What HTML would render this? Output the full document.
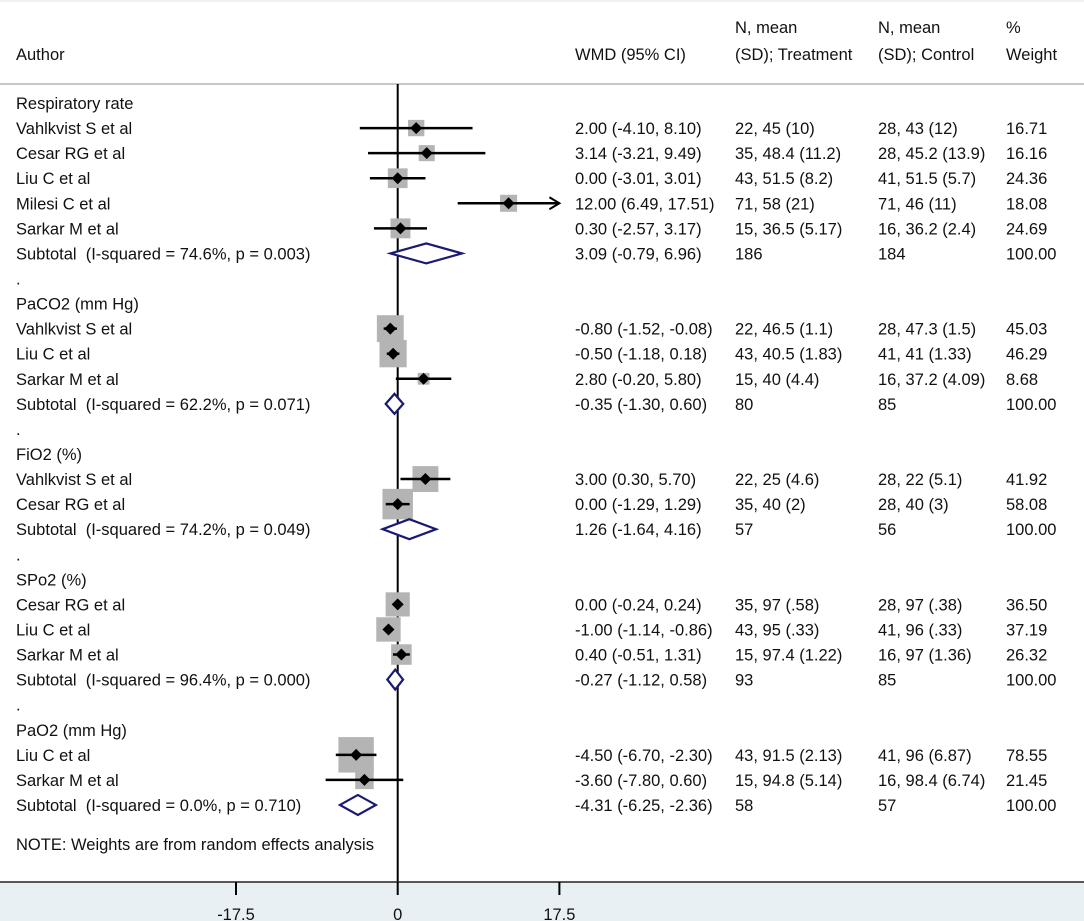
<!DOCTYPE html>
<html><head><meta charset="utf-8"><style>
html,body{margin:0;padding:0;background:#fff}
svg{display:block;font-family:"Liberation Sans",Arial,sans-serif;font-size:16.5px;fill:#111}
svg text{white-space:pre}
</style></head><body>
<svg id="chart" width="1084" height="921" viewBox="0 0 1084 921" xmlns="http://www.w3.org/2000/svg">
<rect x="0" y="0" width="1084" height="921" fill="#fff"/>
<rect x="0" y="882" width="1084" height="39" fill="#e8f0f3"/>
<line x1="0" y1="1" x2="1084" y2="1" stroke="#eef2f2" stroke-width="2"/>
<g>
<text x="16" y="60">Author</text>
<text x="575" y="60">WMD (95% CI)</text>
<text x="735" y="33">N, mean</text>
<text x="735" y="60">(SD); Treatment</text>
<text x="878" y="33">N, mean</text>
<text x="878" y="60">(SD); Control</text>
<text x="1006" y="33">%</text>
<text x="1006" y="60">Weight</text>
</g>
<line x1="0" y1="84" x2="1084" y2="84" stroke="#c8c8c8" stroke-width="2"/>
<g id="marks"></g>
<g id="texts"></g>
<text x="16" y="850">NOTE: Weights are from random effects analysis</text>
<g id="axis"></g>
</svg>
<script>
const rowTypes = ["h","s","s","s","s","s","t","d","h","s","s","s","t","d","h","s","s","t","d","h","s","s","s","t","d","h","s","s","t"];
const rowLabels = ["Respiratory rate","Vahlkvist S et al","Cesar RG et al","Liu C et al","Milesi C et al","Sarkar M et al","Subtotal  (I-squared = 74.6%, p = 0.003)",".",
"PaCO2 (mm Hg)","Vahlkvist S et al","Liu C et al","Sarkar M et al","Subtotal  (I-squared = 62.2%, p = 0.071)",".",
"FiO2 (%)","Vahlkvist S et al","Cesar RG et al","Subtotal  (I-squared = 74.2%, p = 0.049)",".",
"SPo2 (%)","Cesar RG et al","Liu C et al","Sarkar M et al","Subtotal  (I-squared = 96.4%, p = 0.000)",".",
"PaO2 (mm Hg)","Liu C et al","Sarkar M et al","Subtotal  (I-squared = 0.0%, p = 0.710)"];
const estimates = [null,2.00,3.14,0.00,12.00,0.30,3.09,null,null,-0.80,-0.50,2.80,-0.35,null,null,3.00,0.00,1.26,null,null,0.00,-1.00,0.40,-0.27,null,null,-4.50,-3.60,-4.31];
const lowers = [null,-4.10,-3.21,-3.01,6.49,-2.57,-0.79,null,null,-1.52,-1.18,-0.20,-1.30,null,null,0.30,-1.29,-1.64,null,null,-0.24,-1.14,-0.51,-1.12,null,null,-6.70,-7.80,-6.25];
const uppers = [null,8.10,9.49,3.01,17.51,3.17,6.96,null,null,-0.08,0.18,5.80,0.60,null,null,5.70,1.29,4.16,null,null,0.24,-0.86,1.31,0.58,null,null,-2.30,0.60,-2.36];
const treatText = ["","22, 45 (10)","35, 48.4 (11.2)","43, 51.5 (8.2)","71, 58 (21)","15, 36.5 (5.17)","186","","","22, 46.5 (1.1)","43, 40.5 (1.83)","15, 40 (4.4)","80","","","22, 25 (4.6)","35, 40 (2)","57","","","35, 97 (.58)","43, 95 (.33)","15, 97.4 (1.22)","93","","","43, 91.5 (2.13)","15, 94.8 (5.14)","58"];
const controlText = ["","28, 43 (12)","28, 45.2 (13.9)","41, 51.5 (5.7)","71, 46 (11)","16, 36.2 (2.4)","184","","","28, 47.3 (1.5)","41, 41 (1.33)","16, 37.2 (4.09)","85","","","28, 22 (5.1)","28, 40 (3)","56","","","28, 97 (.38)","41, 96 (.33)","16, 97 (1.36)","85","","","41, 96 (6.87)","16, 98.4 (6.74)","57"];
const weights = [null,16.71,16.16,24.36,18.08,24.69,100,null,null,45.03,46.29,8.68,100,null,null,41.92,58.08,100,null,null,36.50,37.19,26.32,100,null,null,78.55,21.45,100];
const tickValues = [-17.5,0,17.5];
const tickLabels = ["-17.5","0","17.5"];

const NS="http://www.w3.org/2000/svg";
const X0=397.7, PX=9.24, XMIN=-17.5, XMAX=17.5;
const xs=v=>X0+v*PX;
const ys=i=>103+i*25.07;
function mk(tag,attrs,parent){const e=document.createElementNS(NS,tag);for(const k in attrs)e.setAttribute(k,attrs[k]);parent.appendChild(e);return e;}
const marks=document.getElementById('marks'), texts=document.getElementById('texts'), axis=document.getElementById('axis');
const f2=v=>v.toFixed(2);

const nl=mk('line',{x1:X0,y1:84,x2:X0,y2:882,stroke:'#000','stroke-width':2},marks);



rowTypes.forEach((t,i)=>{
  const y=ys(i);
  const tx=mk('text',{x:16,y:y+6},texts);
  tx.textContent=rowLabels[i];
  
  
  if(t==='s'||t==='t'){
    const c=mk('text',{x:575,y:y+6},texts);
    c.textContent=f2(estimates[i])+' ('+f2(lowers[i])+', '+f2(uppers[i])+')';
    
    
    const a=mk('text',{x:735,y:y+6},texts); a.textContent=treatText[i];
    
    
    const b=mk('text',{x:878,y:y+6},texts); b.textContent=controlText[i];
    
    
    const w=mk('text',{x:1006,y:y+6},texts); w.textContent=f2(weights[i]);
    
    
  }
  if(t==='s'){
    const g=mk('g',{},marks);
    
    
    const s=4.0*Math.sqrt(weights[i]);
    const cx=xs(estimates[i]);
    mk('rect',{x:cx-s/2,y:y-s/2,width:s,height:s,fill:'#b4b4b4'},g);
    const hi=Math.min(uppers[i],XMAX), lo=Math.max(lowers[i],XMIN);
    mk('line',{x1:xs(lo),y1:y,x2:xs(hi),y2:y,stroke:'#000','stroke-width':2.5},g);
    if(uppers[i]>XMAX){
      const ax=xs(XMAX);
      mk('path',{d:`M${ax-10},${y-6} L${ax},${y} L${ax-10},${y+6}`,fill:'none',stroke:'#000','stroke-width':2},g);
    }
    mk('path',{d:`M${cx-6},${y} L${cx},${y-6} L${cx+6},${y} L${cx},${y+6}Z`,fill:'#000'},g);
  }
  if(t==='t'){
    const d=mk('path',{d:`M${xs(lowers[i])},${y} L${xs(estimates[i])},${y-10} L${xs(uppers[i])},${y} L${xs(estimates[i])},${y+10}Z`,fill:'#fff',stroke:'#1a1a72','stroke-width':2.2},marks);
    
    
  }
});

const al=mk('line',{x1:0,y1:882,x2:1084,y2:882,stroke:'#222','stroke-width':1.5},axis);


tickValues.forEach((v,k)=>{
  const tk=mk('line',{x1:xs(v),y1:882,x2:xs(v),y2:895,stroke:'#000','stroke-width':2},axis);
  
  
  const tl=mk('text',{x:xs(v),y:920,'text-anchor':'middle'},axis);
  tl.textContent=tickLabels[k];
  
  
});
</script>
</body></html>
